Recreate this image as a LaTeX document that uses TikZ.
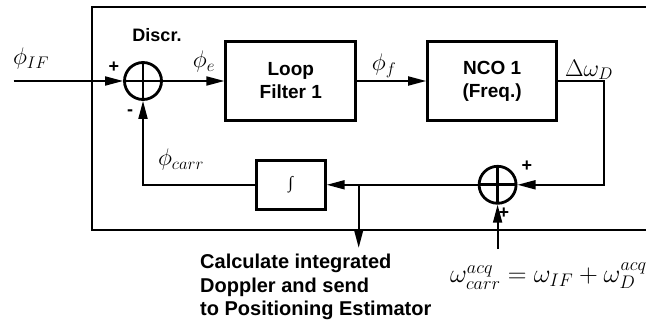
\RequirePackage{fix-cm}
\documentclass[tikz,border=0pt]{standalone}
\usepackage{fontspec}
\setsansfont{Liberation Sans}
\newfontfamily\intfont{Liberation Serif}
\usepackage{tikz}
\usetikzlibrary{arrows.meta, positioning}

\begin{document}
\begin{tikzpicture}[x=1pt, y=-1pt,
        block/.style={rectangle, draw=black, line width=2.8pt, minimum width=130pt, minimum height=79pt, align=center, font=\sffamily\bfseries\fontsize{19}{23}\selectfont},
        summer/.style={circle, draw=black, line width=2.8pt, minimum size=37pt, inner sep=0pt, path picture={\draw[line width=2.8pt] (path picture bounding box.north) -- (path picture bounding box.south) (path picture bounding box.west) -- (path picture bounding box.east);}},
        sig/.style={-{Triangle[length=18pt, width=9pt]}, line width=1.8pt},
        lbl/.style={font=\sffamily\bfseries\fontsize{18}{23}\selectfont, inner sep=0pt},
        sym/.style={font=\fontsize{24}{28}\selectfont, inner sep=0pt}
    ]
        \useasboundingbox (0,0) rectangle (646,326);
        \clip (0,0) rectangle (646,326);

        \node[summer] (sum1) at (143,81) {};
        \node[block, right=61.5pt of sum1] (filter) {Loop\\Filter 1};
        \node[block, minimum width=129pt, right=69pt of filter] (nco) {NCO 1\\(Freq.)};
        \node[block, minimum width=69pt, minimum height=49pt, below=37pt of filter, font=\intfont\fontsize{17}{17}\selectfont] (integ) {∫};
        \node[summer, right=151pt of integ] (sum2) {};

        \coordinate[left=109.5pt of sum1] (input);
        \coordinate[right=32pt of integ.east] (tap);
        \coordinate[below=63pt of tap] (report);
        \coordinate[below=44.5pt of sum2] (acq);
        \coordinate[right=86.5pt of sum2] (turn);

        \draw[line width=1.8pt] (660,7) -- (92,7) -- (92,230) -- (660,230);

        \draw[sig] (input) -- (sum1);
        \draw[sig] (sum1) -- (filter);
        \draw[sig] (filter) -- (nco);
        \draw[sig] (nco.east) -| (turn) -- (sum2);
        \draw[sig] (sum2) -- (integ);
        \draw[sig] (tap) -- (report);
        \draw[sig] (acq) -- (sum2);
        \draw[sig] (integ) -| (sum1);

        \node[sym] (phiif) at (31,59) {$\phi_{IF}$};
        \node[sym] (phie) at (204,62) {$\phi_e$};
        \node[sym] (phif) at (384,66) {$\phi_f$};
        \node[sym] (domega) at (589,70) {$\Delta\omega_D$};
        \node[sym] (phicarr) at (181,160) {$\phi_{carr}$};

        \node[lbl] (discr) at (157,35) {Discr.};
        \node[lbl] (plusa) at (114,67) {+};
        \node[lbl] (minusa) at (130,113) {-};
        \node[lbl] (plusb) at (527,166) {+};
        \node[lbl] (plusc) at (504,213) {+};

        \node[lbl, align=left, anchor=north west, font=\sffamily\bfseries\fontsize{20}{23.5}\selectfont] (calc) at (200,254) {Calculate integrated\\Doppler and send\\to Positioning Estimator};
        \node[anchor=base west, inner sep=0pt, font=\fontsize{26}{30}\selectfont] (eq) at (450,283) {$\omega_{carr}^{acq} = \omega_{IF} + \omega_D^{acq}$};
    \end{tikzpicture}
\end{document}
